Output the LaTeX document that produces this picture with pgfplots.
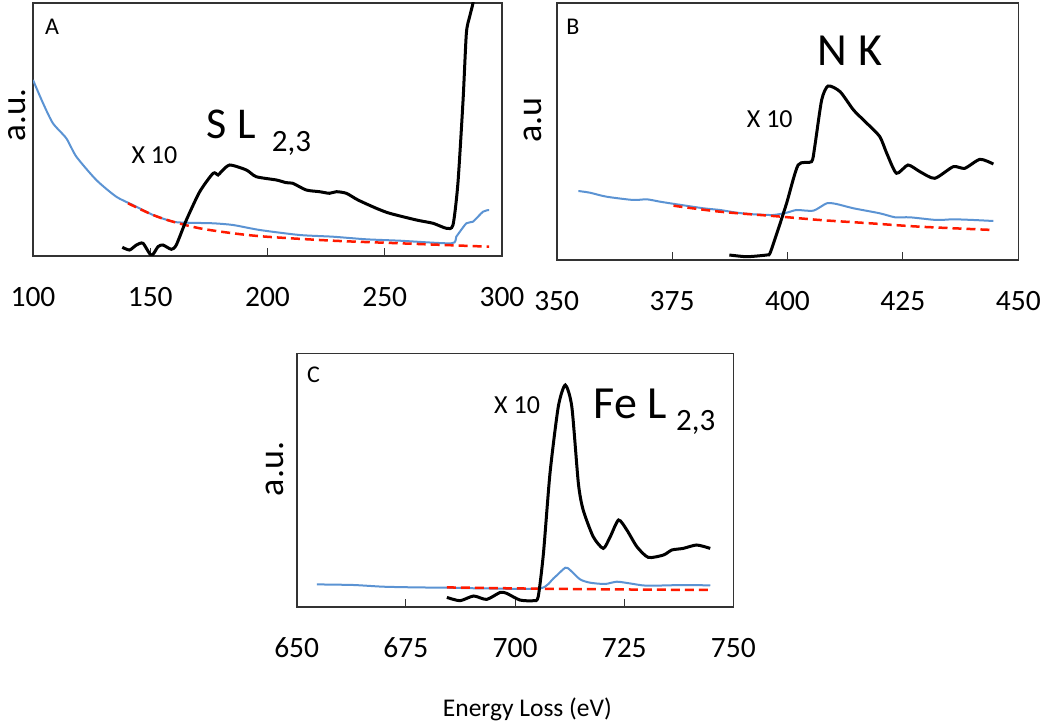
\documentclass[border=0pt]{standalone}
\usepackage{pgfplots}
\pgfplotsset{compat=1.18}
\usepackage{fontspec}
\setmainfont{Carlito}
\definecolor{specblue}{HTML}{5B93D3}
\definecolor{specred}{HTML}{FF1A00}
\definecolor{boxc}{HTML}{333333}
\newcommand{\fs}[1]{\fontsize{#1}{#1}\selectfont}
\pgfplotsset{
  panel/.style={
    anchor=south west, scale only axis,
    ymin=0, ytick=\empty,
    axis line style={line width=1.6pt, boxc},
    tick style={line width=1pt, boxc},
    major tick length=8pt, tick align=inside, xtick pos=bottom,
    clip mode=individual,
    xticklabel style={anchor=base, yshift=-51pt, font=\fs{29.5}},
    /pgf/number format/assume math mode=true,
    /pgf/number format/set thousands separator={},
    scaled ticks=false,
  },
  blk/.style={black, line width=3pt, smooth, tension=0.4},
  blu/.style={specblue, line width=2pt, smooth, tension=0.4},
  rdd/.style={specred, line width=2.5pt, dash pattern=on 9pt off 5pt, smooth},
}
\begin{document}
\begin{tikzpicture}
\path[use as bounding box] (0,0) rectangle (1050pt,724pt);
% ---------------- Panel A ----------------
\begin{axis}[panel, at={(33pt,468pt)}, width=469pt, height=253pt,
  xmin=100, xmax=300, ymax=253, xtick={100,150,200,250,300}]
\addplot[blu] coordinates {(100,176)(104.3,152.7)(108.5,132.7)(114.2,117.7)(118.5,99.3)(127,76)(135.5,59.3)(142.6,51)(151.2,41)(159.7,34.3)(165.4,33.3)(176.8,32.7)(185.3,31)(196.7,26)(213.7,21)(227.9,19.3)(242.1,16.7)(256.4,15.3)(278.4,12.7)(280.5,19.3)(284.8,32.7)(287.6,34.3)(291.9,44.3)(294.5,46)};
\addplot[rdd] coordinates {(140.5,52.7)(151.2,41)(159.7,34.3)(171.1,27.7)(185.3,22.7)(199.5,19.3)(227.9,15.3)(256.4,12.7)(294.5,9.3)};
\addplot[blk] coordinates {(138.1,8.7)(141.2,6)(144.1,11)(146.9,12.7)(150.5,0.5)(153.3,9.3)(155.4,11)(159,6.7)(161.1,11)(165.4,36)(171.1,64.3)(176.8,82.7)(178.9,81)(180.3,84.3)(183.9,91)(191,86)(195.2,79.3)(203.8,76)(208,73.3)(210.8,72.7)(216.5,66)(222.2,64.3)(226.4,62.7)(229.4,64.3)(233.6,62.7)(238.6,56)(246.4,47.7)(252.1,42.7)(263.5,36)(270.6,32.7)(276.3,27.7)(279.1,31)(281.2,72.7)(283.4,156)(284.8,222.7)(286.2,239.3)(287.6,252.7)(288.5,270)};
\path (rel axis cs:0,0) ++(19pt,229pt) node[anchor=center,inner sep=0]{\fs{24}A};
\path (rel axis cs:0,0) ++(-8pt,141pt) node[anchor=base,inner sep=0,rotate=90]{\fs{35}a.u.};
\path (rel axis cs:0,0) ++(98.4pt,92pt) node[anchor=base west,inner sep=0]{\fs{26}X 10};
\path (rel axis cs:0,0) ++(173.7pt,117.7pt) node[anchor=base west,inner sep=0]{\fs{44}S L};
\path (rel axis cs:0,0) ++(238.7pt,104.3pt) node[anchor=base west,inner sep=0]{\fs{31}2,3};
\end{axis}
% ---------------- Panel B ----------------
\begin{axis}[panel, at={(556.7pt,464pt)}, width=461.6pt, height=257pt,
  xmin=350, xmax=450, ymax=257, xtick={350,375,400,425,450}]
\addplot[blu] coordinates {(354.7,69)(357.2,67.3)(360.8,63.3)(366.6,60)(369.5,60.7)(372.4,58.3)(376,55.7)(381.8,51.7)(385.4,50)(389,47.3)(392.6,45.7)(396.9,45)(399.8,47.3)(402,50)(405.6,49.3)(408.5,56.7)(410.6,56)(414.3,51.7)(420,46.7)(423.3,42.7)(426.5,42.7)(432.3,40)(435.9,40.7)(440.3,40)(444.6,39)};
\addplot[rdd] coordinates {(375.3,54.3)(385.4,48.3)(396.9,44)(407,40)(417.9,36.7)(428.7,33.3)(444.6,30)};
\addplot[blk] coordinates {(387.4,5)(391.2,3.3)(395.5,5)(396.2,6.7)(397.7,26.7)(399.8,56.7)(402.3,95)(405.2,98.3)(405.9,113.3)(407.4,160)(408.8,174)(411.4,168.3)(414.3,150)(417.2,136.7)(420,123.3)(421.5,106.7)(423.6,86.7)(426.1,95)(428.7,88.3)(431.9,81.7)(435.9,93.3)(438.4,91.7)(441.7,100.7)(444.6,96)};
\path (rel axis cs:0,0) ++(16.3pt,233pt) node[anchor=center,inner sep=0]{\fs{24}B};
\path (rel axis cs:0,0) ++(-15pt,140pt) node[anchor=base,inner sep=0,rotate=90]{\fs{36}a.u};
\path (rel axis cs:0,0) ++(190pt,132.3pt) node[anchor=base west,inner sep=0]{\fs{26}X 10};
\path (rel axis cs:0,0) ++(261pt,194pt) node[anchor=base west,inner sep=0]{\fs{46}N K};
\end{axis}
% ---------------- Panel C ----------------
\begin{axis}[panel, at={(296.7pt,117.3pt)}, width=436.7pt, height=253.3pt,
  xmin=650, xmax=750, ymax=253.3, xtick={650,675,700,725,750}]
\addplot[blu] coordinates {(654.6,22.3)(663,21.7)(669.8,20)(677.5,19.3)(684.4,19)(692.7,18.3)(705.7,18.3)(708.8,28.3)(711.5,39)(712.6,36.7)(714.9,27.3)(717.2,24)(720.6,22.7)(723.3,25)(726.3,23.3)(730.2,21)(738.5,21.7)(744.7,21.3)};
\addplot[rdd] coordinates {(684.4,19.3)(705.7,18)(723.3,17.3)(744.7,16.7)};
\addplot[blk] coordinates {(684.4,9.3)(687.4,6)(690.5,10.7)(693.5,7.3)(696.6,14.3)(698.1,13.3)(701.1,6.7)(704.2,6)(705.3,10)(706.5,53.3)(708,133.3)(709.9,200)(711.5,221.7)(713,200)(714.5,123.3)(715.6,96.7)(717.9,70)(720.2,58.3)(721.8,70)(723.7,86.7)(725.6,76.7)(727.9,60)(730.5,49.3)(734,51.7)(735.9,56.7)(738.5,58.3)(741.6,61.7)(744.7,58.3)};
\path (rel axis cs:0,0) ++(16.7pt,231.7pt) node[anchor=center,inner sep=0]{\fs{24}C};
\path (rel axis cs:0,0) ++(-13pt,137.7pt) node[anchor=base,inner sep=0,rotate=90]{\fs{36}a.u.};
\path (rel axis cs:0,0) ++(197.3pt,193.3pt) node[anchor=base west,inner sep=0]{\fs{26}X 10};
\path (rel axis cs:0,0) ++(296.7pt,188.3pt) node[anchor=base west,inner sep=0]{\fs{46}Fe L};
\path (rel axis cs:0,0) ++(379.3pt,176pt) node[anchor=base west,inner sep=0]{\fs{31}2,3};
\path (rel axis cs:0,0) ++(230.7pt,-110pt) node[anchor=base,inner sep=0]{\fs{25.5}Energy Loss (eV)};
\end{axis}
\end{tikzpicture}
\end{document}
